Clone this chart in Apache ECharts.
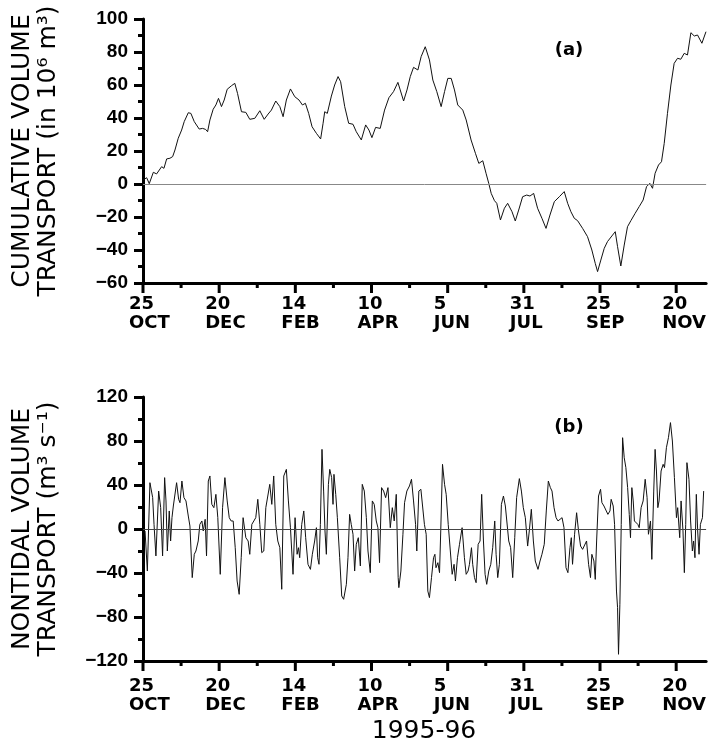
<!DOCTYPE html>
<html><head><meta charset="utf-8">
<script src="https://cdn.jsdelivr.net/npm/echarts@6/dist/echarts.min.js"></script>
<style>html,body{margin:0;padding:0;background:#fff}#c{width:709px;height:745px}</style>
</head><body><div id="c"></div>
<script>
// ---- tick labels ----
const tickDayNumbers = ['25','20','14','10','5','31','25','20'];
const tickMonths = ['OCT','DEC','FEB','APR','JUN','JUL','SEP','NOV'];
const majorStep = 56;   // days between labelled ticks (starting 25 Oct 1995)
const axisEndDay = 414;

// ---- (a) cumulative volume transport (10^6 m^3), day offsets from 25 Oct 1995 ----
const cumDays = [0,0.7,2.7,4.6,7.6,10.0,11.3,13.7,15.4,17.4,19.8,21.8,23.5,25.9,28.4,30.3,33.3,35.2,37.7,41.3,43.8,46.0,47.5,49.2,51.6,53.6,55.5,57.7,59.7,61.9,65.1,67.5,69.5,72.4,75.6,78.5,82.2,85.9,89.1,92.0,94.4,97.6,100.6,103.0,105.4,108.4,111.6,114.7,117.2,119.4,121.8,124.3,127.5,130.6,132.4,133.6,135.5,138.5,140.9,143.4,145.3,148.3,151.2,154.4,156.8,160.5,163.7,166.1,168.3,171.0,174.4,177.6,180.8,184.2,187.4,189.1,191.6,194.1,196.5,198.9,202.1,204.5,207.5,
210.6,213.1,216.0,219.2,221.7,224.1,226.6,229.0,231.4,235.1,237.6,241.2,244.4,246.9,249.8,252.2,254.2,256.0,258.4,260.1,262.8,265.7,268.1,271.3,273.7,276.2,279.1,282.1,284.5,287.2,290.1,293.3,296.3,299.2,302.4,306.1,309.7,312.2,314.6,317.1,319.5,323.2,326.8,330.0,332.5,334.2,336.6,339.1,341.5,344.7,347.2,348.9,351.3,353.8,356.2,358.7,361.8,364.8,367.7,370.2,372.6,374.6,376.5,379.0,381.2,383.2,385.6,388.1,390.5,393.0,395.4,397.9,400.3,402.8,405.3,407.7,410.9,413.9];
const cumValues = [2.4,3.4,3.8,0.2,7.1,6.1,5.5,10.5,9.5,15.2,15.6,16.6,20.6,27.7,32.7,37.8,43.2,42.8,37.8,33.3,33.7,33.1,31.7,38.8,45.3,47.9,51.9,46.9,50.9,57.4,59.6,61.0,54.9,43.8,43.4,39.2,39.8,44.4,39.2,42.4,44.8,50.3,46.9,40.8,50.9,57.6,52.9,50.9,47.9,48.9,42.8,34.7,30.7,27.3,36.8,43.8,42.8,53.3,60.0,65.1,62.0,46.9,36.8,36.2,31.7,26.7,35.8,32.7,28.1,34.3,33.7,44.8,52.3,56.0,61.6,57.0,50.3,57.0,65.1,70.7,69.1,77.2,83.2,
75.2,63.0,56.0,46.9,56.0,64.0,64.0,57.0,47.9,44.8,38.8,26.7,18.6,12.5,14.1,6.5,0.4,-5.7,-10.1,-11.7,-21.8,-14.7,-11.7,-16.8,-22.4,-15.8,-7.7,-6.7,-7.3,-5.7,-14.7,-20.8,-26.9,-18.8,-10.7,-7.7,-4.6,-11.7,-16.8,-20.8,-22.2,-26.9,-31.9,-40.0,-48.1,-53.1,-46.1,-39.0,-34.9,-31.5,-28.9,-38.0,-49.7,-37.0,-25.9,-22.2,-17.8,-13.7,-9.7,-1.6,0.4,-2.6,6.5,11.5,13.5,24.6,42.8,60.0,73.1,76.2,75.6,79.2,78.2,91.7,89.7,90.3,85.3,92.3];

// ---- (b) nontidal volume transport (m^3 s^-1) ----
const ntDays = [1.5,3.2,5.1,7.1,8.1,9.5,11.5,13.0,14.4,15.9,16.9,17.9,19.3,20.3,21.3,22.3,23.7,24.7,26.2,27.2,28.6,30.1,31.6,33.3,34.5,36.2,37.7,38.9,40.6,41.8,43.3,44.3,45.7,46.7,48.0,49.2,50.6,52.1,53.6,55.0,56.8,58.5,60.2,61.9,63.4,64.8,66.3,67.8,69.2,70.7,72.2,73.6,75.6,77.3,78.5,80.0,81.5,82.9,84.4,85.9,87.3,88.8,90.3,91.7,93.2,94.7,96.1,97.6,99.1,100.6,102.0,
103.5,105.4,106.9,108.4,110.3,111.8,113.3,114.3,115.2,116.7,118.2,119.6,121.3,123.1,124.5,126.2,127.5,128.4,129.4,130.4,131.6,132.8,133.8,134.8,136.3,137.3,138.7,139.7,140.4,141.7,142.9,144.6,146.1,147.5,149.5,150.7,151.9,153.1,154.4,155.6,156.8,158.3,159.8,161.2,162.7,164.2,165.4,167.1,168.6,170.0,171.5,172.7,173.9,175.4,176.9,178.4,180.1,181.8,183.3,184.7,186.2,187.6,188.1,189.6,191.1,192.3,194.0,195.9,197.4,198.9,200.4,201.3,202.8,204.3,
205.7,206.9,208.2,209.4,210.6,212.1,213.6,214.6,215.4,216.8,218.0,218.9,220.2,221.7,222.9,224.4,225.8,227.3,228.7,229.7,231.2,232.7,234.6,236.3,237.6,239.0,240.0,241.5,242.4,243.7,244.9,246.4,247.8,249.0,250.3,251.5,252.7,254.2,255.7,257.1,258.6,259.6,260.8,262.0,263.5,265.0,266.4,267.4,268.9,270.3,271.8,273.3,274.7,276.7,278.2,279.6,281.1,282.8,284.0,285.5,287.0,288.4,290.4,291.9,293.3,295.0,296.5,298.0,299.5,300.7,302.2,303.7,305.1,306.6,
308.1,309.5,311.0,312.4,313.9,314.9,315.8,317.3,318.8,320.2,321.7,323.2,324.6,326.1,327.6,329.0,330.0,331.5,332.5,333.5,334.9,336.4,337.4,338.9,340.3,341.8,343.3,344.2,345.7,346.7,348.1,348.9,349.6,350.6,351.6,352.6,353.8,355.0,356.3,357.5,358.4,359.4,360.4,361.3,362.3,363.8,364.8,366.2,367.7,369.2,370.6,371.6,373.1,374.1,375.5,376.5,377.5,378.5,379.4,380.9,382.4,383.4,384.8,386.3,387.8,389.2,390.7,392.2,393.1,394.6,395.6,397.0,398.0,399.0,399.9,401.4,402.6,403.9,404.8,405.8,406.8,407.8,408.8,409.8,411.3,412.2];
const ntValues = [-1.8,-38.2,42.1,28.5,4.2,-24.5,34.5,19.4,-24.5,46.7,25.5,-20.0,16.4,-10.9,10.3,20.9,22.4,42.1,27.0,23.9,43.6,28.5,25.5,11.8,2.7,-44.2,-23.0,-20.0,-10.9,4.2,7.3,-1.8,8.8,-24.5,43.6,48.2,22.4,19.4,31.5,10.3,-41.2,19.4,46.7,25.5,10.3,7.3,7.3,-17.0,-47.3,-59.4,-26.1,10.3,-7.9,-10.9,-23.0,4.2,7.3,10.3,27.0,4.2,-21.5,-20.0,19.4,19.4,40.6,22.4,48.2,4.2,-10.9,-17.0,-54.8,
48.2,54.2,25.5,1.2,-41.2,10.3,-23.0,-17.0,-26.1,4.2,16.4,-7.9,-32.1,-36.7,-23.0,-10.9,1.2,-26.1,-32.1,4.2,72.4,34.5,-1.8,-23.0,40.6,54.2,46.7,22.4,49.7,31.5,10.3,-26.1,-60.9,-63.9,-50.3,-26.1,13.3,4.2,-4.8,-38.2,-13.9,-7.9,-33.6,40.6,34.5,10.3,-20.0,-39.7,25.5,22.4,7.3,1.2,-30.6,37.6,34.5,28.5,37.6,1.2,19.4,7.3,31.5,-44.2,-53.3,-38.2,-4.8,23.9,34.5,39.1,45.2,25.5,4.2,-20.0,34.5,36.1,
37.6,4.2,-4.8,-56.4,-62.4,-44.2,-26.1,-23.0,-35.2,-30.6,-39.7,-1.8,58.8,40.6,31.5,4.2,2.7,-41.2,-32.1,-47.3,-26.1,-13.9,1.2,-26.1,-41.2,-38.2,-32.1,-17.0,-32.1,-44.2,-48.8,-13.9,-10.9,31.5,-10.9,-41.2,-50.3,-38.2,-32.1,-17.0,7.3,-23.0,-44.2,-32.1,22.4,30.0,20.9,19.4,-10.9,-17.0,-44.2,-7.9,28.5,45.8,34.5,19.4,10.3,-15.5,-1.8,17.9,-10.9,-29.1,-36.7,-29.1,-23.0,-13.9,16.4,43.6,37.6,34.5,19.4,10.3,7.3,8.8,
10.3,1.2,-35.2,-39.7,-17.0,-7.9,-32.1,-4.8,14.8,-1.8,-15.5,-18.5,-17.0,-10.9,-32.1,-44.2,-23.0,-29.1,-45.8,-10.9,30.0,36.1,23.9,20.9,19.4,13.3,16.4,27.0,20.9,4.2,-56.4,-71.5,-113.9,-68.5,4.2,83.0,64.8,55.8,37.6,13.3,-7.9,37.6,25.5,7.3,8.8,4.2,1.2,19.4,25.5,45.2,28.5,-4.8,7.3,-27.6,34.5,72.4,52.7,19.4,25.5,52.7,58.8,55.8,73.9,83.0,96.7,80.0,46.7,10.3,19.4,-7.9,25.5,-1.8,-39.7,4.2,60.3,45.2,7.3,-20.0,-10.9,-26.1,31.5,-1.8,-23.0,4.2,10.3,34.5];

const FONT = 'DejaVu Sans';
const YFONT = 'Liberation Sans';
const lastMajor = (tickMonths.length - 1) * majorStep;   // 392
const majorTicks = tickMonths.map((_, i) => i * majorStep);
// every half-step tick (major + minor) for the date axes
const allTicks = [];
for (let d = 0; d <= lastMajor; d += majorStep / 2) allTicks.push(d);
const zip = (a, b) => a.map((d, i) => [d, b[i]]);
const fmtY = v => v < 0 ? '\u2212' + (-v) : String(v);
const Y_MIN = [-60, -120];

function mainX(grid, margin) {
  return {
    type: 'value', gridIndex: grid, position: 'bottom', min: 0, max: axisEndDay,
    axisLine: { show: true, onZero: false, lineStyle: { color: '#000', width: 3 } },
    axisTick: { show: false },
    axisLabel: {
      show: true, customValues: majorTicks, margin: margin,
      formatter: v => { const i = Math.round(v / majorStep); return '{a|' + tickDayNumbers[i] + '}\n{a|' + tickMonths[i] + '}'; },
      rich: { a: { width: 28, align: 'left', fontFamily: FONT, fontWeight: 'bold', fontSize: 18, color: '#000', lineHeight: 19 } }
    },
    splitLine: { show: false }
  };
}
function yAx(grid, min, max, interval, name) {
  return {
    type: 'value', gridIndex: grid, min: min, max: max, interval: interval,
    axisLine: { show: true, onZero: false, lineStyle: { color: '#000', width: 3 } },
    axisTick: { show: true, length: 9, lineStyle: { color: '#000', width: 3 } },
    minorTick: { show: true, splitNumber: 2, length: 5, lineStyle: { color: '#000', width: 3 } },
    axisLabel: { margin: 15, fontFamily: YFONT, fontWeight: 'bold', fontSize: 19, color: '#000', formatter: fmtY },
    splitLine: { show: false }, minorSplitLine: { show: false },
    name: name, nameLocation: 'middle', nameRotate: 90, nameGap: 82,
    nameTextStyle: { fontFamily: FONT, fontSize: 25, lineHeight: 26, color: '#000' }
  };
}
// date-axis tick marks, positioned through the axis scale (api.coord)
function tickSeries(axisIdx) {
  return {
    type: 'custom', xAxisIndex: axisIdx, yAxisIndex: axisIdx, clip: false, silent: true, z: 10,
    data: allTicks.map(d => [d]),
    renderItem: (params, api) => {
      const d = api.value(0);
      const p = api.coord([d, Y_MIN[axisIdx]]);
      const len = (d % majorStep === 0) ? 10 : 5;
      return { type: 'line', shape: { x1: p[0], y1: p[1], x2: p[0], y2: p[1] + len },
        style: { stroke: '#000', lineWidth: 3 } };
    }
  };
}
function zeroLine(color) {
  return { silent: true, symbol: ['none', 'none'], label: { show: false },
    lineStyle: { color: color, width: 1, type: 'solid' }, data: [{ yAxis: 0 }] };
}

const chart = echarts.init(document.getElementById('c'), null, { renderer: 'canvas' });
chart.setOption({
  animation: false,
  backgroundColor: '#fff',
  grid: [
    { left: 143, top: 19, width: 564, height: 264 },
    { left: 143, top: 397, width: 564, height: 264 }
  ],
  xAxis: [mainX(0, 12), mainX(1, 16)],
  yAxis: [
    yAx(0, Y_MIN[0], 100, 20, 'CUMULATIVE VOLUME\nTRANSPORT (in 10\u2076 m\u00b3)'),
    yAx(1, Y_MIN[1], 120, 40, 'NONTIDAL VOLUME\nTRANSPORT (m\u00b3 s\u207b\u00b9)')
  ],
  series: [
    { type: 'line', xAxisIndex: 0, yAxisIndex: 0, data: zip(cumDays, cumValues), showSymbol: false,
      lineStyle: { color: '#111', width: 1 }, markLine: zeroLine('#888') },
    { type: 'line', xAxisIndex: 1, yAxisIndex: 1, data: zip(ntDays, ntValues), showSymbol: false,
      lineStyle: { color: '#111', width: 1 }, markLine: zeroLine('#444') },
    tickSeries(0), tickSeries(1)
  ],
  graphic: [
    { type: 'text', x: 569, y: 50, style: { text: '(a)', font: 'bold 18px "DejaVu Sans"', fill: '#000', align: 'center', verticalAlign: 'middle' } },
    { type: 'text', x: 569, y: 427, style: { text: '(b)', font: 'bold 18px "DejaVu Sans"', fill: '#000', align: 'center', verticalAlign: 'middle' } },
    { type: 'text', x: 424, y: 731, style: { text: '1995-96', font: '25px "DejaVu Sans"', fill: '#000', align: 'center', verticalAlign: 'middle' } }
  ]
});
</script></body></html>
